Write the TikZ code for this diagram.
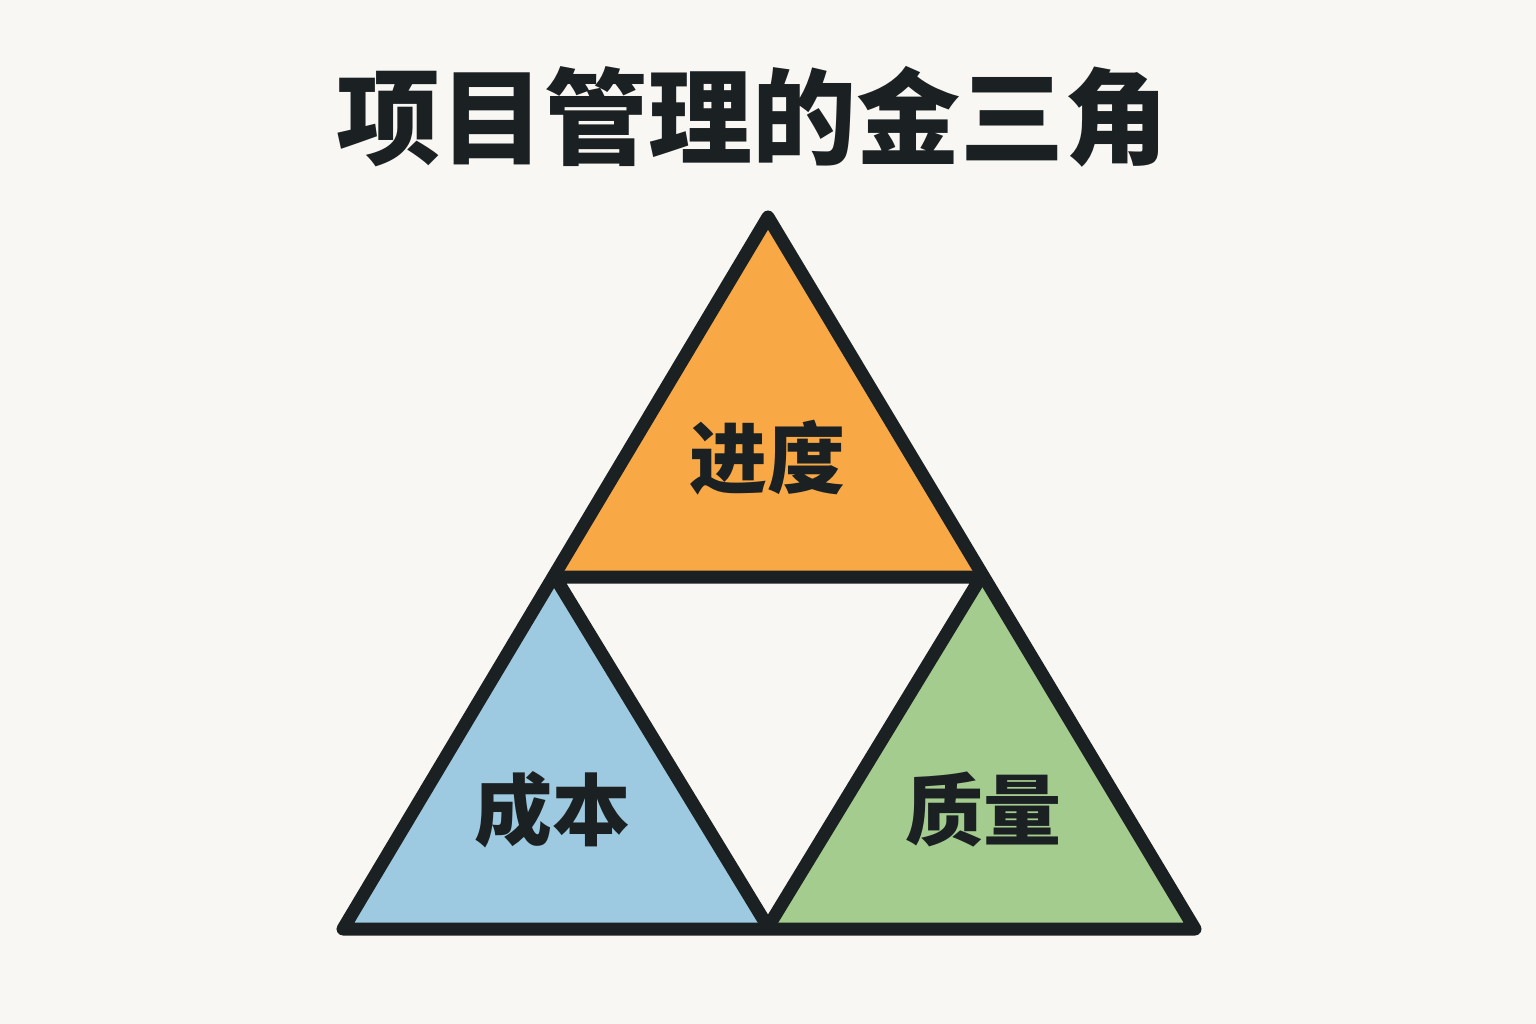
\documentclass[tikz,border=0pt]{standalone}
\usepackage{fontspec}
\newfontfamily\cjk{Noto Sans CJK SC}
\definecolor{bgc}{HTML}{F8F7F3}
\definecolor{linec}{HTML}{1B2122}
\definecolor{orangec}{HTML}{F9A846}
\definecolor{bluec}{HTML}{9DCAE0}
\definecolor{greenc}{HTML}{A3CC8E}
\begin{document}
\begin{tikzpicture}[x=1pt,y=-1pt,
  edge/.style={draw=linec,line width=13pt,line join=round,line cap=round},
  lbl/.style={font=\cjk\bfseries\fontsize{78}{80}\selectfont,text=linec,inner sep=0pt}]
\fill[bgc] (0,0) rectangle (1536,1024);
\useasboundingbox (0,0) rectangle (1536,1024);
\coordinate (A) at (768,217);
\coordinate (L) at (343,929);
\coordinate (R) at (1195,929);
\coordinate (ML) at (555,577);
\coordinate (MR) at (981,577);
\coordinate (MB) at (768,927);
\fill[orangec] (A) -- (ML) -- (MR) -- cycle;
\fill[bluec] (ML) -- (L) -- (MB) -- cycle;
\fill[greenc] (MR) -- (MB) -- (R) -- cycle;
\draw[edge] (A) -- (L) -- (R) -- cycle;
\draw[edge] (ML) -- (MR) -- (MB) -- cycle;
\node[font=\cjk\bfseries\fontsize{104}{108}\selectfont,text=linec,inner sep=0pt] (title) at (752,117) {项目管理的金三角};
\node[lbl] (jd) at (767,458) {进度};
\node[lbl] (cb) at (552,810) {成本};
\node[lbl] (zl) at (983,810) {质量};
\end{tikzpicture}
\end{document}
